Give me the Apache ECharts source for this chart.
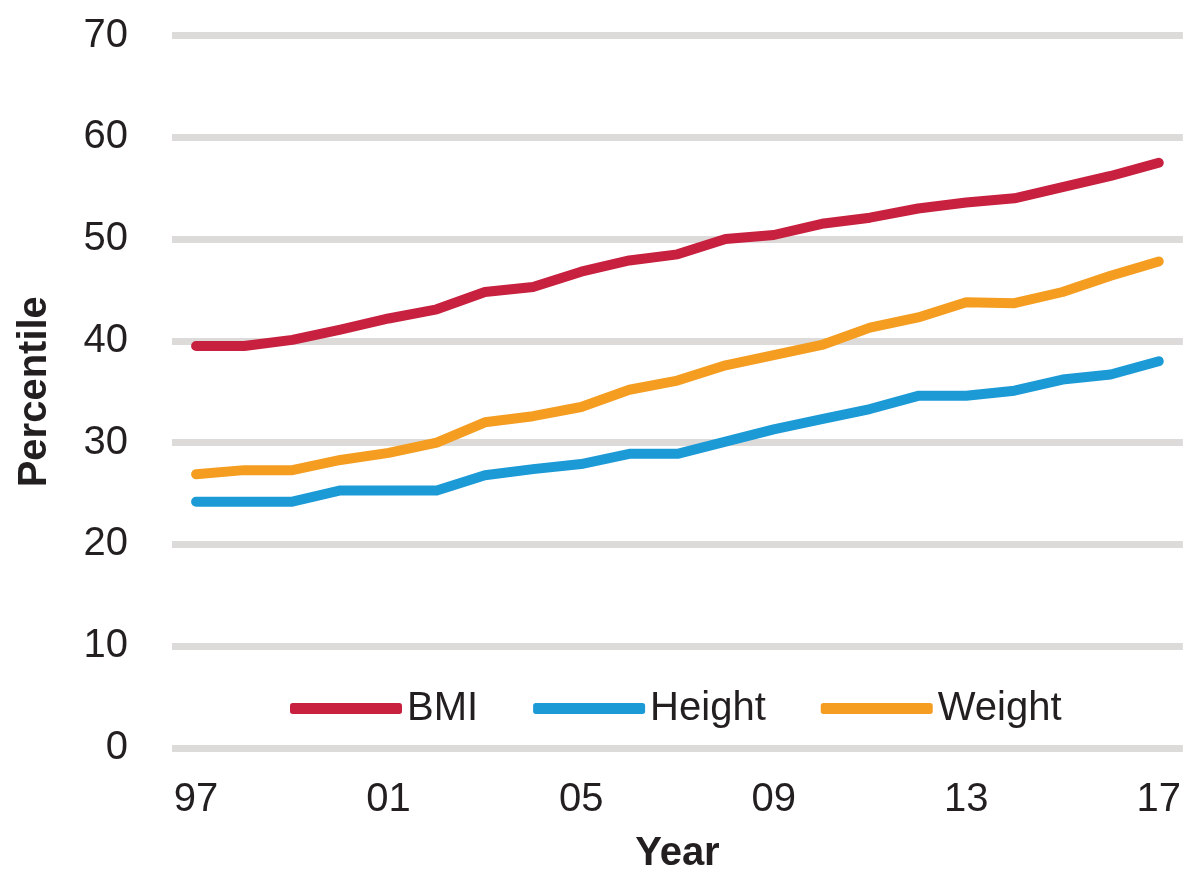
<!DOCTYPE html>
<html>
<head>
<meta charset="utf-8">
<title>Percentile by year</title>
<script src="https://cdn.jsdelivr.net/npm/echarts@6/dist/echarts.min.js"></script>
<style>
  html, body { margin: 0; padding: 0; background: #ffffff; }
  #chart { width: 1184px; height: 879px; }
</style>
</head>
<body>
<div id="chart"></div>
<script>
// Survey years (two-digit labels)
const years = ['97', '98', '99', '00', '01', '02', '03', '04', '05', '06', '07',
               '08', '09', '10', '11', '12', '13', '14', '15', '16', '17'];

// Percentile series
const bmi    = [39.5, 39.5, 40.1, 41.1, 42.2, 43.1, 44.8, 45.3, 46.8, 47.9, 48.5,
                50.0, 50.4, 51.5, 52.1, 53.0, 53.6, 54.0, 55.1, 56.2, 57.5];
const height = [24.2, 24.2, 24.2, 25.3, 25.3, 25.3, 26.8, 27.4, 27.9, 28.9, 28.9,
                30.1, 31.3, 32.3, 33.3, 34.6, 34.6, 35.1, 36.2, 36.7, 38.0];
const weight = [26.9, 27.3, 27.3, 28.3, 29.0, 30.0, 32.0, 32.6, 33.5, 35.2, 36.1,
                37.6, 38.6, 39.6, 41.3, 42.3, 43.8, 43.7, 44.8, 46.4, 47.8];

// Y axis range
const yMin = 0, yMax = 70, yStep = 10;

const textColor = '#231f20';
const labelFont = "'Liberation Sans', sans-serif";

function lineSeries(name, data, color) {
  return {
    name: name,
    type: 'line',
    data: data,
    symbol: 'none',
    smooth: false,
    lineStyle: { color: color, width: 10, cap: 'round', join: 'round' },
    itemStyle: { color: color },
    emphasis: { disabled: true }
  };
}

const chart = echarts.init(document.getElementById('chart'), null, { renderer: 'canvas' });
chart.setOption({
  animation: false,
  backgroundColor: '#ffffff',
  grid: { left: 172, right: 0, top: 35.5, bottom: 126, containLabel: false },
  legend: {
    left: 285,
    top: 679.5,
    icon: 'roundRect',
    itemWidth: 112,
    itemHeight: 11,
    itemGap: 55,
    textStyle: { color: textColor, fontSize: 40, lineHeight: 40, fontFamily: labelFont, padding: [0, 0, 8, 0] },
    data: ['BMI', 'Height', 'Weight']
  },
  xAxis: {
    type: 'category',
    data: years,
    boundaryGap: true,
    name: 'Year',
    nameLocation: 'middle',
    nameGap: 86,
    nameTextStyle: { color: textColor, fontSize: 40, fontWeight: 'bold', fontFamily: labelFont },
    axisLine: { show: false },
    axisTick: { show: false },
    axisLabel: { interval: 3, margin: 32, color: textColor, fontSize: 40, fontFamily: labelFont }
  },
  yAxis: {
    type: 'value',
    min: yMin,
    max: yMax,
    interval: yStep,
    name: 'Percentile',
    nameLocation: 'middle',
    nameGap: 117,
    nameTextStyle: { color: textColor, fontSize: 40, fontWeight: 'bold', fontFamily: labelFont },
    axisLine: { show: false },
    axisTick: { show: false },
    axisLabel: { margin: 44, color: textColor, fontSize: 40, fontFamily: labelFont, padding: [0, 0, 8, 0] },
    splitLine: { lineStyle: { color: '#dcdbd9', width: 7 } }
  },
  series: [
    lineSeries('BMI', bmi, '#c8203f'),
    lineSeries('Height', height, '#1c9ad6'),
    lineSeries('Weight', weight, '#f49d21')
  ]
});
</script>
</body>
</html>
